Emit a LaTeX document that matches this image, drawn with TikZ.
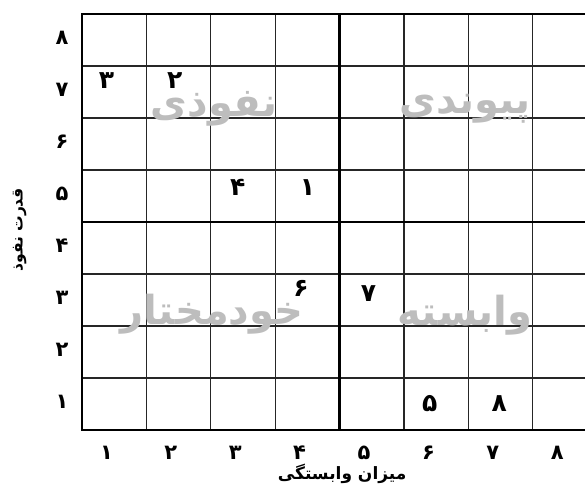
\documentclass[tikz,border=0pt]{standalone}
\usepackage{fontspec}
\newfontfamily\fafont[Script=Arabic]{DejaVu Sans}
\TeXXeTstate=1
\tikzset{
  thinline/.style={line width=1.1pt, black!85},
  thickline/.style={line width=2.4pt, black},
  cellnum/.style={font=\fafont\bfseries\fontsize{25}{28}\selectfont},
  axisnum/.style={font=\fafont\bfseries\fontsize{21}{24}\selectfont},
  zonelabel/.style={font=\fafont\bfseries\fontsize{40}{44}\selectfont, text=black!26},
  axistitle/.style={font=\fafont\bfseries\fontsize{17}{20}\selectfont}
}
\begin{document}
\begin{tikzpicture}[x=64.4pt, y=52pt]
  \useasboundingbox (-1.273,-1.192) rectangle (7.811,8.269);

  % Grid
  \foreach \i in {1,2,3,5,6,7,8} \draw[thinline] (\i,0) -- (\i,8);
  \foreach \j in {1,2,3,5,6,7} \draw[thinline] (0,\j) -- (8,\j);

  % Quadrant borders
  \coordinate (o)  at (0,0);
  \coordinate (tl) at (0,8);
  \coordinate (tr) at (8,8);
  \coordinate (br) at (8,0);
  \draw[thickline] (br) -- (o) -- (tl) -- (tr);
  \draw[thickline] (4,0) -- (4,8);
  \draw[thickline] (0,4) -- (8,4);

  % Zone labels
  \node[zonelabel] (infl) at (2.05,6.17) {\beginR نفوذی\endR};
  \node[zonelabel] (link) at (5.95,6.17) {\beginR پیوندی\endR};
  \node[zonelabel] (auto) at (2.02,2.22) {\beginR خودمختار\endR};
  \node[zonelabel] (dep)  at (5.95,2.2) {\beginR وابسته\endR};

  % Variables
  \node[cellnum] (c3) at (0.38,6.72) {۳};
  \node[cellnum] (c2) at (1.44,6.72) {۲};
  \node[cellnum] (c4) at (2.42,4.67) {۴};
  \node[cellnum] (c1) at (3.5,4.67)  {۱};
  \node[cellnum] (c6) at (3.4,2.72)  {۶};
  \node[cellnum] (c7) at (4.45,2.62) {۷};
  \node[cellnum] (c5) at (5.4,0.5)   {۵};
  \node[cellnum] (c8) at (6.48,0.5)  {۸};

  % Axis numbers
  \foreach \i/\d in {1/۱,2/۲,3/۳,4/۴,5/۵,6/۶,7/۷,8/۸} {
    \node[axisnum] (x\i) at (\i-0.62,-0.44) {\d};
    \node[axisnum] (y\i) at (-0.31,\i-0.45) {\d};
  }

  % Axis titles
  \node[axistitle] (xt) at (4.04,-0.84) {\beginR میزان وابستگی\endR};
  \node[axistitle, rotate=90, font=\fafont\bfseries\fontsize{15.5}{18}\selectfont] (yt) at (-0.97,3.85) {\beginR قدرت نفوذ\endR};
\end{tikzpicture}
\end{document}
